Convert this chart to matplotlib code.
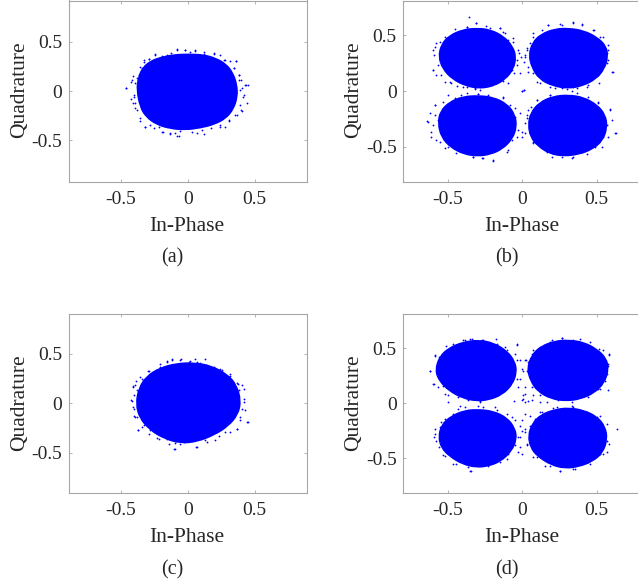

import matplotlib
matplotlib.use("Agg")
import matplotlib.pyplot as plt
from matplotlib.path import Path
from matplotlib.patches import PathPatch

plt.rcParams['font.family'] = ['Liberation Serif', 'DejaVu Sans']

W, H = 638, 581
BLUE = '#0000ff'
GRAY = '#a6a6a6'

tick_values = [-0.5, 0, 0.5]
tick_labels = ['-0.5', '0', '0.5']

# The solid centre of each cloud is read as an outline, the loose dots round it one by one

# Panel (a)
a_core_x = [-0.372, -0.362, -0.330, -0.268, -0.193, -0.106, 0.006, 0.118, 0.205, 0.280, 0.329, 0.359, 0.362, 0.334, 0.280, 0.193, 0.093, -0.019, -0.130, -0.230, -0.305, -0.347]
a_core_y = [0.010, 0.129, 0.231, 0.299, 0.333, 0.357, 0.364, 0.357, 0.323, 0.265, 0.180, 0.061, -0.058, -0.177, -0.269, -0.330, -0.364, -0.384, -0.371, -0.330, -0.255, -0.160]
a_dots_x = [-0.458, -0.415, -0.423, -0.403, -0.396, -0.408, -0.366, -0.358, -0.328, -0.291, -0.241, -0.154, -0.080, -0.017, 0.057, 0.119, 0.194, 0.274, 0.318, 0.361, 0.343, 0.381, 0.398, 0.430, 0.448, 0.405, 0.418, 0.443, 0.398, 0.368, 0.306, 0.244, 0.119, 0.070, -0.067, -0.092, -0.129, -0.192, -0.254, -0.316, -0.353,
            -0.392, -0.404, -0.392, -0.379, -0.354, -0.322, -0.280, -0.218, -0.188, -0.130, -0.081, -0.056, 0.031, 0.106, 0.175, 0.243, 0.280, 0.310, 0.355, 0.404, 0.392, 0.409, 0.392, 0.434, 0.384, 0.379, 0.342, 0.360, 0.280, 0.243, 0.193, 0.118, 0.056, 0.019, -0.024, -0.081, -0.123, -0.193, -0.247, -0.287, -0.330, -0.342, -0.379, -0.412, -0.422, -0.459, -0.347, -0.367]
a_dots_y = [0.027, 0.112, -0.082, -0.058, -0.177, -0.126, 0.163, 0.248, 0.299, 0.323, 0.374, 0.367, 0.425, 0.418, 0.412, 0.401, 0.384, 0.316, 0.310, 0.306, 0.231, 0.163, 0.112, 0.061, 0.061, 0.027, -0.041, -0.126, -0.194, -0.245, -0.303, -0.364, -0.439, -0.432, -0.459, -0.432, -0.442, -0.415, -0.381, -0.364, -0.303,
            0.078, -0.041, -0.126, -0.194, -0.279, -0.364, -0.347, -0.371, -0.415, -0.432, -0.459, -0.405, -0.415, -0.398, -0.381, -0.347, -0.371, -0.296, -0.245, -0.201, -0.143, -0.058, 0.010, 0.061, 0.112, 0.163, 0.231, 0.310, 0.316, 0.367, 0.378, 0.378, 0.408, 0.401, 0.418, 0.418, 0.384, 0.357, 0.367, 0.323, 0.316, 0.231, 0.129, 0.153, 0.095, 0.027, 0.180, -0.075]

# Panel (b)
b_tl_x = [-0.554, -0.536, -0.487, -0.397, -0.307, -0.217, -0.128, -0.072, -0.049, -0.065, -0.117, -0.195, -0.285, -0.374, -0.464, -0.527]
b_tl_y = [0.308, 0.413, 0.488, 0.542, 0.554, 0.542, 0.482, 0.398, 0.308, 0.204, 0.114, 0.054, 0.033, 0.054, 0.114, 0.204]
b_tr_x = [0.052, 0.074, 0.130, 0.220, 0.309, 0.410, 0.500, 0.556, 0.567, 0.545, 0.489, 0.399, 0.309, 0.209, 0.119, 0.070]
b_tr_y = [0.323, 0.428, 0.503, 0.548, 0.554, 0.533, 0.473, 0.398, 0.308, 0.204, 0.114, 0.054, 0.033, 0.054, 0.114, 0.219]
b_bl_x = [-0.558, -0.543, -0.482, -0.397, -0.296, -0.195, -0.105, -0.056, -0.045, -0.072, -0.139, -0.217, -0.296, -0.386, -0.475, -0.536]
b_bl_y = [-0.290, -0.186, -0.105, -0.060, -0.051, -0.066, -0.126, -0.216, -0.320, -0.425, -0.515, -0.560, -0.575, -0.560, -0.500, -0.410]
b_br_x = [0.047, 0.063, 0.119, 0.209, 0.309, 0.410, 0.500, 0.549, 0.563, 0.534, 0.466, 0.377, 0.276, 0.186, 0.108, 0.063]
b_br_y = [-0.305, -0.201, -0.111, -0.057, -0.045, -0.066, -0.135, -0.216, -0.320, -0.440, -0.515, -0.560, -0.575, -0.554, -0.485, -0.410]
b_dots_x = [-0.357, -0.312, -0.374, -0.240, -0.150, -0.128, -0.094, -0.061, -0.020, -0.038, 0.018, 0.011, 0.029, 0.074, 0.175, 0.253, 0.343, 0.399, 0.477, 0.545, 0.572, 0.607, 0.578, 0.518, 0.433, 0.366, 0.298, 0.220, 0.096, 0.040, 0.011, 0.0, -0.285, -0.318, -0.397, -0.487, -0.543, -0.596, -0.601, -0.578,
            -0.587, -0.632, -0.610, -0.576, -0.520, -0.442, -0.330, -0.262, -0.195, -0.105, -0.038, -0.004, -0.016, -0.049, -0.128, -0.296, -0.408, -0.587,
            0.029, 0.040, 0.018, 0.074, 0.164, 0.265, 0.343, 0.433, 0.534, 0.578, 0.630, 0.601, 0.590, 0.511, 0.365, 0.186, 0.096]
b_dots_y = [0.668, 0.614, 0.578, 0.584, 0.563, 0.533, 0.458, 0.443, 0.338, 0.278, 0.323, 0.263, 0.368, 0.518, 0.593, 0.602, 0.614, 0.593, 0.548, 0.488, 0.368, 0.174, 0.278, 0.069, 0.033, 0.024, 0.015, 0.024, 0.084, 0.174, 0.009, 0.003, 0.009, 0.024, 0.033, 0.084, 0.144, 0.189, 0.368, 0.428,
            -0.216, -0.275, -0.365, -0.440, -0.515, -0.560, -0.596, -0.605, -0.626, -0.545, -0.410, -0.365, -0.201, -0.156, -0.066, -0.030, -0.036, -0.126,
            -0.246, -0.171, -0.380, -0.470, -0.545, -0.590, -0.596, -0.566, -0.500, -0.410, -0.380, -0.260, -0.165, -0.096, -0.015, -0.036, -0.081]
b_ring = [(-0.587, 0.398), (-0.591, 0.323), (-0.598, 0.189), (-0.565, 0.234), (-0.576, 0.144), (-0.520, 0.084), (-0.475, 0.069), (-0.441, 0.048), (-0.374, 0.039), (-0.318, 0.018), (-0.284, 0.039), (-0.206, 0.054), (-0.127, 0.093), (-0.105, 0.144), (-0.067, 0.189), (-0.038, 0.234), (-0.009, 0.308), (-0.027, 0.368), (-0.060, 0.473), (-0.116, 0.518), (-0.150, 0.563), (-0.217, 0.569), (-0.307, 0.608), (-0.374, 0.578), (-0.453, 0.557), (-0.520, 0.488), (-0.553, 0.443),
          (0.030, 0.383), (0.018, 0.308), (0.041, 0.219), (0.074, 0.159), (0.119, 0.069), (0.186, 0.039), (0.265, 0.030), (0.343, 0.039), (0.444, 0.054), (0.511, 0.144), (0.568, 0.248), (0.601, 0.174), (0.568, 0.338), (0.574, 0.413), (0.523, 0.488), (0.478, 0.548), (0.399, 0.599), (0.343, 0.617), (0.265, 0.593), (0.175, 0.593), (0.130, 0.548), (0.074, 0.488), (0.052, 0.428),
          (-0.621, -0.201), (-0.636, -0.270), (-0.598, -0.305), (-0.610, -0.410), (-0.553, -0.455), (-0.497, -0.500), (-0.419, -0.539), (-0.329, -0.590), (-0.273, -0.599), (-0.195, -0.620), (-0.094, -0.530), (-0.067, -0.440), (-0.004, -0.410), (-0.031, -0.350), (-0.049, -0.231), (-0.083, -0.126), (-0.127, -0.051), (-0.228, -0.036), (-0.296, -0.030), (-0.374, -0.021), (-0.453, -0.066), (-0.497, -0.036), (-0.531, -0.102), (-0.587, -0.126), (-0.565, -0.261),
          (0.018, -0.291), (0.030, -0.216), (0.059, -0.141), (0.097, -0.081), (0.186, -0.036), (0.332, -0.000), (0.444, -0.051), (0.511, -0.111), (0.590, -0.171), (0.568, -0.305), (0.624, -0.380), (0.545, -0.410), (0.489, -0.500), (0.399, -0.551), (0.332, -0.599), (0.198, -0.590), (0.130, -0.515), (0.074, -0.455), (0.052, -0.380),
          (0.000, 0.000), (0.014, 0.009), (-0.015, 0.159), (-0.053, 0.159), (-0.094, 0.069)]

# Panel (c)
c_core_x = [-0.378, -0.358, -0.303, -0.204, -0.080, 0.045, 0.169, 0.294, 0.356, 0.388, 0.368, 0.294, 0.194, 0.070, -0.055, -0.179, -0.279, -0.353]
c_core_y = [-0.007, 0.145, 0.263, 0.347, 0.391, 0.397, 0.370, 0.279, 0.178, 0.027, -0.108, -0.226, -0.310, -0.377, -0.394, -0.343, -0.259, -0.141]
c_dots_x = [-0.415, -0.410, -0.403, -0.373, -0.410, -0.383, -0.353, -0.291, -0.204, -0.154, -0.117, -0.047, 0.020, 0.070, 0.132, 0.194, 0.244, 0.318, 0.373, 0.418, 0.418, 0.430, 0.448, 0.393, 0.368, 0.318, 0.231, 0.144, 0.070, -0.055, -0.100, -0.142, -0.229, -0.291, -0.341, -0.391]
c_dots_y = [0.027, -0.040, -0.125, -0.269, 0.168, 0.229, 0.263, 0.330, 0.397, 0.431, 0.448, 0.448, 0.424, 0.414, 0.444, 0.347, 0.347, 0.279, 0.195, 0.145, 0.010, -0.067, -0.192, -0.141, -0.259, -0.293, -0.327, -0.394, -0.438, -0.411, -0.461, -0.411, -0.350, -0.310, -0.242, -0.141]
c_ring = [(-0.422, 0.030), (-0.404, -0.054), (-0.379, -0.138), (-0.372, -0.273), (-0.330, -0.222), (-0.280, -0.273), (-0.218, -0.357), (-0.155, -0.357), (-0.098, -0.458), (-0.093, -0.407), (-0.031, -0.390), (0.061, -0.441), (0.131, -0.374), (0.205, -0.374), (0.280, -0.290), (0.367, -0.256), (0.392, -0.172), (0.442, -0.188), (0.404, -0.054), (0.417, 0.047), (0.380, 0.131), (0.404, 0.182), (0.367, 0.199), (0.317, 0.293), (0.255, 0.333), (0.193, 0.367), (0.093, 0.401), (0.056, 0.451), (0.006, 0.418), (-0.056, 0.441), (-0.118, 0.441), (-0.155, 0.418), (-0.205, 0.367), (-0.255, 0.317), (-0.297, 0.327), (-0.342, 0.249), (-0.392, 0.182), (-0.412, 0.172), (-0.379, 0.131), (-0.404, 0.081)]

# Panel (d)
d_tl_x = [-0.576, -0.549, -0.487, -0.397, -0.296, -0.195, -0.105, -0.056, -0.045, -0.072, -0.139, -0.229, -0.307, -0.397, -0.487, -0.549]
d_tl_y = [0.297, 0.418, 0.494, 0.545, 0.564, 0.539, 0.464, 0.373, 0.282, 0.176, 0.085, 0.039, 0.030, 0.055, 0.121, 0.206]
d_tr_x = [0.040, 0.070, 0.130, 0.220, 0.309, 0.410, 0.500, 0.556, 0.572, 0.545, 0.478, 0.388, 0.298, 0.197, 0.108, 0.063]
d_tr_y = [0.312, 0.433, 0.509, 0.555, 0.564, 0.545, 0.479, 0.403, 0.312, 0.191, 0.100, 0.048, 0.030, 0.048, 0.115, 0.206]
d_bl_x = [-0.554, -0.536, -0.475, -0.386, -0.296, -0.195, -0.105, -0.056, -0.045, -0.078, -0.150, -0.229, -0.307, -0.397, -0.482, -0.536]
d_bl_y = [-0.309, -0.203, -0.127, -0.076, -0.067, -0.082, -0.142, -0.233, -0.324, -0.430, -0.521, -0.561, -0.573, -0.545, -0.476, -0.400]
d_br_x = [0.047, 0.074, 0.130, 0.220, 0.309, 0.410, 0.500, 0.549, 0.563, 0.534, 0.466, 0.377, 0.287, 0.197, 0.108, 0.063]
d_br_y = [-0.294, -0.188, -0.112, -0.067, -0.052, -0.073, -0.133, -0.218, -0.324, -0.445, -0.521, -0.567, -0.582, -0.552, -0.476, -0.400]
d_dots_x = [-0.617, -0.587, -0.599, -0.531, -0.498, -0.397, -0.352, -0.262, -0.173, -0.117, -0.038, -0.038, -0.016, -0.027, 0.007, 0.025, 0.074, 0.197, 0.265, 0.343, 0.455, 0.545, 0.585, 0.578, 0.556, 0.511, 0.074, 0.018, -0.004, 0.040, -0.056, -0.285,
            -0.587, -0.576, -0.543, -0.430, -0.262, -0.184, -0.072, -0.016, -0.027, -0.016, -0.004, -0.105, -0.348, -0.442, -0.520,
            0.018, 0.052, 0.018, 0.029, 0.096, 0.186, 0.253, 0.354, 0.455, 0.545, 0.581, 0.635, 0.567, 0.522, 0.343, 0.209, 0.119]
d_dots_y = [0.297, 0.433, 0.176, 0.152, 0.070, 0.570, 0.585, 0.576, 0.585, 0.509, 0.539, 0.388, 0.221, 0.145, 0.297, 0.388, 0.479, 0.576, 0.594, 0.576, 0.524, 0.479, 0.442, 0.342, 0.206, 0.130, 0.070, 0.085, 0.030, 0.018, 0.024, 0.009,
            -0.279, -0.339, -0.173, -0.052, -0.030, -0.036, -0.127, -0.203, -0.309, -0.400, -0.461, -0.506, -0.612, -0.552, -0.476,
            -0.097, -0.112, -0.233, -0.370, -0.491, -0.567, -0.618, -0.597, -0.552, -0.461, -0.370, -0.233, -0.188, -0.112, -0.030, -0.042, -0.082]
d_ring = [(-0.621, 0.291), (-0.587, 0.434), (-0.592, 0.176), (-0.565, 0.146), (-0.520, 0.085), (-0.497, 0.010), (-0.430, 0.055), (-0.363, 0.025), (-0.284, 0.019), (-0.206, 0.055), (-0.127, 0.116), (-0.083, 0.161), (-0.038, 0.222), (-0.004, 0.313), (-0.015, 0.388), (-0.049, 0.449), (-0.038, 0.525), (-0.105, 0.479), (-0.172, 0.540), (-0.273, 0.576), (-0.340, 0.585), (-0.385, 0.576), (-0.464, 0.540), (-0.509, 0.516), (-0.560, 0.419),
          (0.018, 0.388), (0.030, 0.297), (0.063, 0.146), (0.119, 0.070), (0.164, 0.010), (0.242, 0.025), (0.332, 0.010), (0.444, 0.055), (0.523, 0.131), (0.574, 0.122), (0.568, 0.267), (0.574, 0.358), (0.579, 0.443), (0.512, 0.494), (0.455, 0.555), (0.388, 0.585), (0.265, 0.594), (0.186, 0.555), (0.119, 0.510), (0.063, 0.449), (0.036, 0.373), (0.007, 0.070), (0.018, 0.146),
          (-0.587, -0.233), (-0.592, -0.309), (-0.560, -0.400), (-0.531, -0.475), (-0.464, -0.551), (-0.363, -0.581), (-0.345, -0.612), (-0.228, -0.566), (-0.150, -0.536), (-0.094, -0.460), (-0.049, -0.384), (-0.027, -0.445), (-0.004, -0.248), (-0.049, -0.157), (-0.105, -0.097), (-0.172, -0.060), (-0.296, -0.021), (-0.385, -0.036), (-0.419, -0.021), (-0.464, -0.097), (-0.520, -0.142), (-0.553, -0.218),
          (0.018, -0.263), (0.030, -0.384), (0.074, -0.490), (0.153, -0.566), (0.254, -0.618), (0.343, -0.596), (0.444, -0.536), (0.523, -0.460), (0.568, -0.445), (0.568, -0.339), (0.534, -0.218), (0.500, -0.127), (0.433, -0.081), (0.332, -0.021), (0.231, -0.036), (0.130, -0.081), (0.086, -0.142), (0.052, -0.203), (0.119, 0.010),
          (0.007, 0.040), (0.018, 0.010), (0.063, 0.025), (-0.004, -0.157), (-0.015, -0.309)]


def make_axes(left, right, top, bottom, xlim, ylim):
    # pixel box of the panel, measured from the top left of the picture
    ax = fig.add_axes([left / W, 1 - bottom / H, (right - left) / W, (bottom - top) / H])
    ax.set_xlim(-xlim, xlim)
    ax.set_ylim(-ylim, ylim)
    ax.set_xticks(tick_values)
    ax.set_xticklabels(tick_labels)
    ax.set_yticks(tick_values)
    ax.set_yticklabels(tick_labels)
    ax.tick_params(direction='in', length=2, width=0.6, color=GRAY, labelsize=14, labelcolor='#262626')
    ax.tick_params(axis='x', pad=6.5, top=True)
    ax.tick_params(axis='y', pad=4.5, right=True)
    for spine in ax.spines.values():
        spine.set_color(GRAY)
        spine.set_linewidth(0.8)
    return ax


def label_panel(x_mid, y_mid, quad_x, phase_y, letter, letter_x, letter_y):
    fig.text(x_mid / W, 1 - phase_y / H, 'In-Phase', ha='center', va='center', fontsize=15.5, color='#262626')
    fig.text(quad_x / W, 1 - y_mid / H, 'Quadrature', ha='center', va='center', rotation=90, fontsize=15.5, color='#262626')
    fig.text(letter_x / W, 1 - letter_y / H, letter, ha='center', va='center', fontsize=14.5, color='#262626')


def draw_blob(ax, x, y):
    # closed quadratic curve with the outline readings as control points, so it has no corners
    n = len(x)
    mids = [((x[i] + x[(i + 1) % n]) / 2, (y[i] + y[(i + 1) % n]) / 2) for i in range(n)]
    verts = [mids[-1]]
    codes = [Path.MOVETO]
    for i in range(n):
        verts += [(x[i], y[i]), mids[i]]
        codes += [Path.CURVE3, Path.CURVE3]
    ax.add_patch(PathPatch(Path(verts, codes), facecolor=BLUE, edgecolor=BLUE, lw=2.6))


def draw_dots(ax, x, y):
    ax.plot(x, y, '.', color=BLUE, ms=2.6, mew=0)


fig = plt.figure(figsize=(W / 100, H / 100), dpi=100)

ax_a = make_axes(68.5, 307, 0.5, 181.5, 0.89, 0.92)
ax_b = make_axes(403, 641.5, 0.5, 181.5, 0.80, 0.813)
ax_c = make_axes(68.5, 307, 313.7, 492.7, 0.89, 0.904)
ax_d = make_axes(403, 641.5, 313.7, 492.7, 0.80, 0.813)

draw_blob(ax_a, a_core_x, a_core_y)
draw_dots(ax_a, a_dots_x, a_dots_y)

for cx, cy in [(b_tl_x, b_tl_y), (b_tr_x, b_tr_y), (b_bl_x, b_bl_y), (b_br_x, b_br_y)]:
    draw_blob(ax_b, cx, cy)
draw_dots(ax_b, b_dots_x, b_dots_y)
draw_dots(ax_b, *zip(*b_ring))

draw_blob(ax_c, c_core_x, c_core_y)
draw_dots(ax_c, c_dots_x, c_dots_y)
draw_dots(ax_c, *zip(*c_ring))

for cx, cy in [(d_tl_x, d_tl_y), (d_tr_x, d_tr_y), (d_bl_x, d_bl_y), (d_br_x, d_br_y)]:
    draw_blob(ax_d, cx, cy)
draw_dots(ax_d, d_dots_x, d_dots_y)
draw_dots(ax_d, *zip(*d_ring))

label_panel(187, 90, 19.5, 226, '(a)', 172, 258)
label_panel(522, 90, 353.7, 226, '(b)', 506.7, 258)
label_panel(187, 403, 19.5, 537.5, '(c)', 172, 570)
label_panel(522, 403, 353.7, 537.5, '(d)', 506.7, 570)

fig.savefig('out.png', dpi=100)
